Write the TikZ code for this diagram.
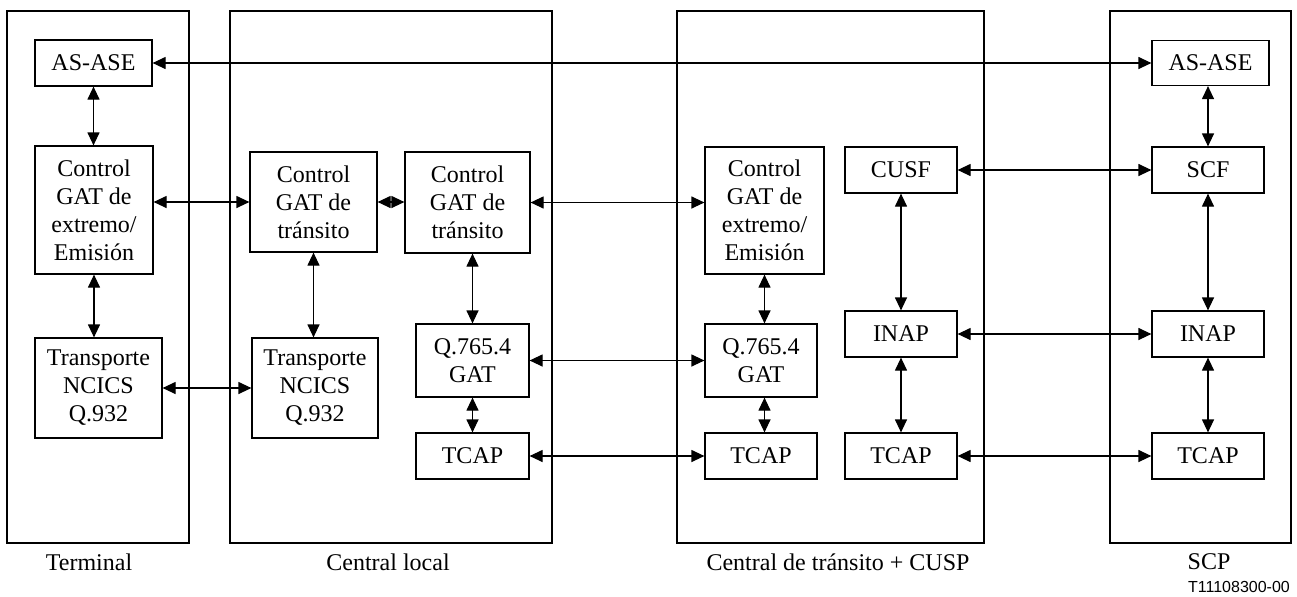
\documentclass[tikz,border=0pt]{standalone}
\usepackage{fontspec}
\setmainfont{Liberation Serif}
\newfontfamily\figfont{Liberation Sans}
\usetikzlibrary{arrows.meta}
\tikzset{
	box/.style={draw, line width=0.6pt, inner sep=0pt, align=center, font=\fontsize{12}{14}\selectfont},
	sz/.style 2 args={minimum width=#1*0.5pt, minimum height=#2*0.5pt},
	frame/.style={draw, line width=0.6pt},
	link/.style={<->, line width=0.6pt},
	lbl/.style={inner sep=0pt, font=\fontsize{12}{14}\selectfont},
	>={Triangle[length=6.5pt,width=6pt]}
}

\begin{document}
\begin{tikzpicture}[x=0.5pt, y=-0.5pt]
		%%%%% START %%%%%
		\useasboundingbox (0, 0) rectangle (1297, 596);
		
		\draw[frame] (7, 11) rectangle (189, 543);
		\draw[frame] (230, 11) rectangle (552, 543);
		\draw[frame] (677, 11) rectangle (984, 543);
		\draw[frame] (1110, 11) rectangle (1291, 543);
		
		\node[box, sz={117}{46}] (asL) at (93.5, 63) {AS-ASE};
		\node[box, sz={118}{128}] (ctlL) at (94, 210) {Control\\GAT de\\extremo/\\Emisión};
		\node[box, sz={127}{100}] (trL) at (98.5, 388) {Transporte\\NCICS\\Q.932};
		
		\node[box, sz={127}{100}] (ctlA) at (313.5, 202) {Control\\GAT de\\tránsito};
		\node[box, sz={125}{101}] (ctlB) at (467.5, 202.5) {Control\\GAT de\\tránsito};
		\node[box, sz={126}{100}] (trM) at (315, 388) {Transporte\\NCICS\\Q.932};
		\node[box, sz={113}{73}] (gatA) at (472.5, 360.5) {Q.765.4\\GAT};
		\node[box, sz={113}{46}] (tcA) at (472.5, 456) {TCAP};
		
		\node[box, sz={119}{127}] (ctlC) at (764.5, 210.5) {Control\\GAT de\\extremo/\\Emisión};
		\node[box, sz={112}{73}] (gatB) at (761, 360.5) {Q.765.4\\GAT};
		\node[box, sz={112}{46}] (tcB) at (761, 456) {TCAP};
		\node[box, sz={112}{46}] (cusf) at (901, 170) {CUSF};
		\node[box, sz={112}{46}] (inapA) at (901, 334) {INAP};
		\node[box, sz={112}{46}] (tcC) at (901, 456) {TCAP};
		
		\node[box, sz={117}{45}] (asR) at (1210.5, 63) {AS-ASE};
		\node[box, sz={112}{46}] (scf) at (1208, 170) {SCF};
		\node[box, sz={112}{46}] (inapB) at (1208, 334) {INAP};
		\node[box, sz={112}{46}] (tcD) at (1208, 456) {TCAP};
		
		\draw[link] (asL) -- (asR);
		\draw[link] (asL.south) -- (asL.south |- ctlL.north);
		\draw[link] (ctlL.south) -- (ctlL.south |- trL.north);
		\draw[link] (ctlA.west -| ctlL.east) -- (ctlA.west);
		\draw[link] (trL) -- (trM);
		
		\draw[link] (ctlA.east) -- (ctlA.east -| ctlB.west);
		\draw[link] (ctlA.south) -- (ctlA.south |- trM.north);
		\draw[link] (gatA.north |- ctlB.south) -- (gatA.north);
		\draw[link] (gatA) -- (tcA);
		
		\draw[link] (ctlB.east) -- (ctlB.east -| ctlC.west);
		\draw[link] (gatA) -- (gatB);
		\draw[link] (tcA) -- (tcB);
		\draw[link] (ctlC.south) -- (ctlC.south |- gatB.north);
		\draw[link] (gatB.south -| ctlC.south) -- (tcB.north -| ctlC.south);
		
		\draw[link] (cusf) -- (scf);
		\draw[link] (cusf) -- (inapA);
		\draw[link] (inapA) -- (tcC);
		\draw[link] (inapA) -- (inapB);
		\draw[link] (tcC) -- (tcD);
		\draw[link] (asR.south -| scf.north) -- (scf.north);
		\draw[link] (scf) -- (inapB);
		\draw[link] (inapB) -- (tcD);
		
		\node[lbl] (lTerm) at (89, 562) {Terminal};
		\node[lbl] (lLocal) at (388, 562) {Central local};
		\node[lbl] (lTrans) at (838, 562) {Central de tránsito + CUSP};
		\node[lbl] (lScp) at (1209, 562) {SCP};
		\node[inner sep=0pt, font=\figfont\fontsize{8}{9}\selectfont] (figId) at (1239, 587) {T11108300-00};
		
		%%%%% END %%%%%
\end{tikzpicture}
\end{document}
